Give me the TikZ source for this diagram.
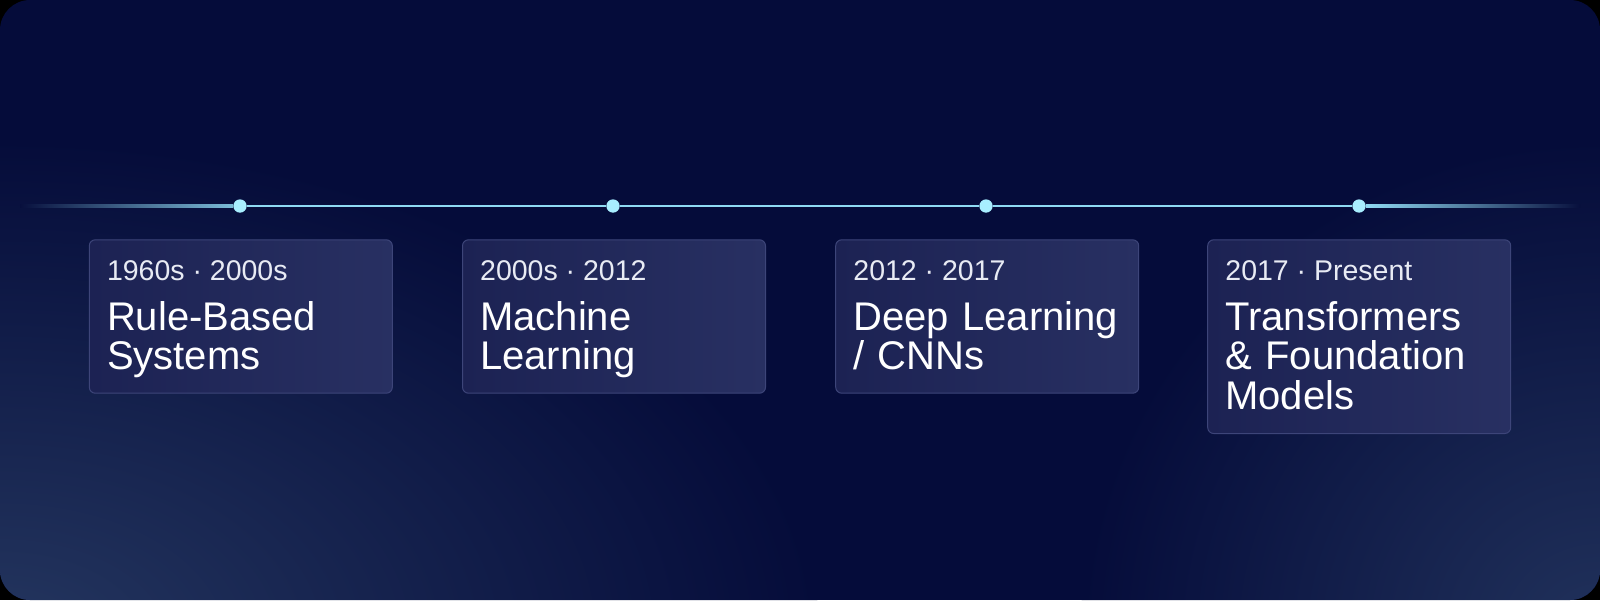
\documentclass[tikz,border=0pt]{standalone}
\usepackage{fontspec}
\setmainfont{Liberation Sans}
\usetikzlibrary{calc}
\definecolor{bgc}{HTML}{050C3A}
\definecolor{bglight}{HTML}{24365F}
\definecolor{linec}{HTML}{8FDAF3}
\definecolor{dotc}{HTML}{A8EEFF}
\definecolor{cardfill}{HTML}{1C2253}
\definecolor{cardfill2}{HTML}{283062}
\definecolor{cardline}{HTML}{3D4579}
\definecolor{datec}{HTML}{E8EBF4}
\begin{document}
\begin{tikzpicture}[x=1pt,y=-1pt,
  card/.style={draw=cardline, line width=1pt, rounded corners=6pt, left color=cardfill, right color=cardfill2, minimum width=303pt, inner sep=0pt, anchor=north},
  dot/.style={circle, fill=dotc, minimum size=13.3pt, inner sep=0pt},
  datelbl/.style={anchor=base west, inner sep=0pt, text=datec, font=\fontsize{28.5}{34}\selectfont},
  titlelbl/.style={anchor=base west, inner sep=0pt, text=white, align=left, text width=295pt, font=\fontsize{40}{39.5}\selectfont},
  tl/.style={line width=2.8pt, draw=linec}]
\useasboundingbox (0,0) rectangle (1600,600);
\fill[black] (0,0) rectangle (1600,600);
\begin{scope}
  \clip[rounded corners=30pt] (0,0) rectangle (1600,600);
  \fill[bgc] (0,0) rectangle (1600,600);
  \shade[inner color=bglight, outer color=bgc] (0,640) ellipse [x radius=820pt, y radius=500pt];
  \shade[inner color=bglight!90!bgc, outer color=bgc] (1600,640) ellipse [x radius=520pt, y radius=500pt];
\end{scope}
% timeline
\coordinate (ls) at (20,206);
\coordinate (le) at (1580,206);
\node[dot] (d1) at (240,206) {};
\node[dot] (d2) at (613,206) {};
\node[dot] (d3) at (986,206) {};
\node[dot] (d4) at (1359,206) {};
\shade[left color=bgc!92!bglight, right color=linec!85!bgc] ($(ls)+(0,-1.4)$) rectangle ($(d1.west)+(0,1.4)$);
\draw[tl] (d1) -- (d2);
\draw[tl] (d2) -- (d3);
\draw[tl] (d3) -- (d4);
\shade[left color=linec, middle color=linec!70!bgc, right color=bgc!92!bglight] ($(d4.east)+(0,-1.4)$) rectangle ($(le)+(0,1.4)$);
% cards
\node[card, minimum height=153.4pt] (b1) at (240.8,239.3) {};
\node[card, minimum height=153.4pt] (b2) at (614.0,239.3) {};
\node[card, minimum height=153.4pt] (b3) at (987.2,239.3) {};
\node[card, minimum height=193.7pt] (b4) at (1359.2,239.3) {};
\node[datelbl] (y1) at ($(b1.north west)+(18,41.4)$) {1960s · 2000s};
\node[titlelbl] (n1) at ($(b1.north west)+(18,90.7)$) {Rule-Based\\Systems};
\node[datelbl] (y2) at ($(b2.north west)+(18,41.4)$) {2000s · 2012};
\node[titlelbl] (n2) at ($(b2.north west)+(18,90.7)$) {Machine\\Learning};
\node[datelbl] (y3) at ($(b3.north west)+(18,41.4)$) {2012 · 2017};
\node[titlelbl] (n3) at ($(b3.north west)+(18,90.7)$) {Deep Learning\\/ CNNs};
\node[datelbl] (y4) at ($(b4.north west)+(18,41.4)$) {2017 · Present};
\node[titlelbl] (n4) at ($(b4.north west)+(18,90.7)$) {Transformers\\\& Foundation\\Models};
\end{tikzpicture}
\end{document}
